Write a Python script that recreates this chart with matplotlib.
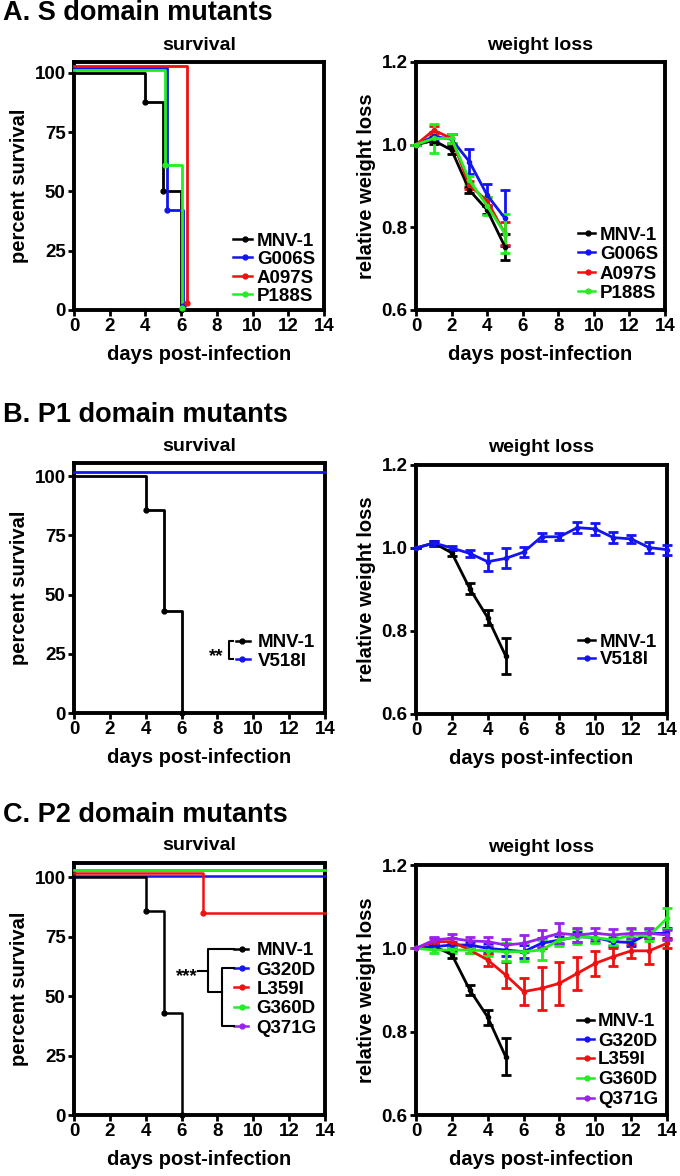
import matplotlib
matplotlib.use("Agg")
import matplotlib.pyplot as plt
import numpy as np

plt.rcParams['font.family'] = ['Liberation Sans', 'DejaVu Sans']
plt.rcParams['font.weight'] = 'bold'

# ---------------- data ----------------
COL = {'MNV-1': '#000000', 'G006S': '#1414f0', 'A097S': '#ee1111', 'P188S': '#22ee22',
       'V518I': '#1414f0', 'G320D': '#1414f0', 'L359I': '#ee1111', 'G360D': '#22ee22',
       'Q371G': '#9922ee'}

# Panel A survival (steps)
A_surv_labels = ['MNV-1', 'G006S', 'A097S', 'P188S']
A_surv_days = [[0, 4, 5, 6], [0, 5.2, 6.1], [0, 6.3], [0, 5.1, 6.05]]
A_surv_vals = [[100, 87.5, 50, 0], [102, 42, 1.5], [103, 3], [101, 61, 1]]

# Panel A weight loss
A_days = [0, 1, 2, 3, 4, 5]
A_w_labels = ['MNV-1', 'G006S', 'A097S', 'P188S']
A_w_mean = [[1.0, 1.010, 0.987, 0.890, 0.842, 0.753],
            [1.0, 1.020, 1.013, 0.959, 0.878, 0.822],
            [1.0, 1.035, 1.015, 0.902, 0.864, 0.785],
            [1.0, 1.015, 1.015, 0.914, 0.852, 0.785]]
A_w_err = [[0, 0.008, 0.010, 0.008, 0.010, 0.032],
           [0, 0.010, 0.012, 0.030, 0.027, 0.068],
           [0, 0.010, 0.010, 0.010, 0.010, 0.028],
           [0, 0.035, 0.010, 0.010, 0.022, 0.048]]

# Panel B survival
B_surv_labels = ['MNV-1', 'V518I']
B_surv_days = [[0, 4, 5, 6], [0, 14]]
B_surv_vals = [[100, 85.7, 42.9, 0], [102, 102]]

# Panel B weight loss
B_w_labels = ['MNV-1', 'V518I']
B_w_days = [[0, 1, 2, 3, 4, 5], list(range(15))]
B_w_mean = [[1.0, 1.012, 0.988, 0.902, 0.832, 0.740],
            [1.0, 1.012, 1.0, 0.987, 0.967, 0.975, 0.990, 1.027, 1.027, 1.049,
             1.046, 1.025, 1.022, 1.001, 0.996]]
B_w_err = [[0, 0.006, 0.008, 0.014, 0.018, 0.044],
           [0, 0.006, 0.006, 0.008, 0.022, 0.024, 0.012, 0.010, 0.008, 0.013,
            0.015, 0.013, 0.010, 0.014, 0.012]]

# Panel C survival
C_surv_labels = ['MNV-1', 'G320D', 'L359I', 'G360D', 'Q371G']
C_surv_days = [[0, 4, 5, 6], [0, 14], [0, 7.2, 14], [0, 14], [0, 14]]
C_surv_vals = [[100, 85.7, 42.9, 0], [100.6, 100.6], [101.8, 85, 85],
               [103, 103], [103, 103]]
C_draw_order = ['Q371G', 'G360D', 'G320D', 'MNV-1', 'L359I']

# Panel C weight loss
C_w_labels = ['MNV-1', 'G320D', 'L359I', 'G360D', 'Q371G']
C_w_days = [[0, 1, 2, 3, 4, 5]] + [list(range(15))] * 4
C_w_mean = [[1.0, 1.005, 0.985, 0.900, 0.835, 0.740],
            [1.0, 1.004, 1.008, 1.008, 1.000, 0.996, 0.992, 1.012, 1.020, 1.028,
             1.026, 1.016, 1.014, 1.036, 1.036],
            [1.0, 1.016, 1.016, 0.996, 0.972, 0.936, 0.896, 0.904, 0.916, 0.940,
             0.964, 0.980, 0.994, 0.994, 1.012],
            [1.0, 0.996, 0.996, 0.996, 0.994, 0.992, 0.992, 0.996, 1.020, 1.028,
             1.026, 1.020, 1.032, 1.030, 1.072],
            [1.0, 1.020, 1.024, 1.018, 1.016, 1.008, 1.012, 1.024, 1.036, 1.032,
             1.036, 1.032, 1.036, 1.036, 1.032]]
C_w_err = [[0, 0.006, 0.008, 0.012, 0.018, 0.044],
           [0, 0.006, 0.008, 0.008, 0.010, 0.014, 0.016, 0.012, 0.010, 0.012,
            0.010, 0.010, 0.008, 0.010, 0.012],
           [0, 0.008, 0.010, 0.008, 0.014, 0.032, 0.033, 0.052, 0.052, 0.040,
            0.030, 0.022, 0.016, 0.032, 0.010],
           [0, 0.008, 0.008, 0.008, 0.012, 0.022, 0.022, 0.024, 0.015, 0.018,
            0.012, 0.012, 0.014, 0.012, 0.026],
           [0, 0.008, 0.010, 0.010, 0.012, 0.015, 0.020, 0.020, 0.024, 0.016,
            0.014, 0.014, 0.012, 0.012, 0.012]]

# ---------------- figure ----------------
W, H = 680, 1176
fig = plt.figure(figsize=(W / 100, H / 100), dpi=100)


def px_axes(x0, y0, x1, y1):
    return fig.add_axes([x0 / W, 1 - y1 / H, (x1 - x0) / W, (y1 - y0) / H])


def style(ax, ylim, yticks, yfmt, ylabel, title):
    ax.set_xlim(0, 14)
    ax.set_ylim(*ylim)
    ax.set_xticks(range(0, 15, 2))
    ax.set_yticks(yticks)
    ax.set_yticklabels([yfmt(v) for v in yticks])
    for s in ax.spines.values():
        s.set_linewidth(2.8)
    ax.tick_params(direction='out', length=4, width=2, labelsize=13.5, pad=2)
    for lab in ax.get_xticklabels() + ax.get_yticklabels():
        lab.set_fontweight('bold')
    ax.set_xlabel('days post-infection', fontsize=14.5, fontweight='bold', labelpad=7)
    ax.set_ylabel(ylabel, fontsize=14.5, fontweight='bold', labelpad=4)
    ax.set_title(title, fontsize=14, fontweight='bold', pad=9)


def survival(ax, labels, days, vals, order=None, lw=2.0):
    items = list(zip(labels, days, vals))
    if order is not None:
        items = sorted(items, key=lambda t: order.index(t[0]))
    for lab, d, v in items:
        c = COL[lab]
        ax.plot(d, v, drawstyle='steps-post', color=c, lw=lw, clip_on=False, zorder=3)
        md = [x for i, x in enumerate(d) if i > 0 and x < 14]
        mv = [y for i, (x, y) in enumerate(zip(d, v)) if i > 0 and x < 14]
        ax.plot(md, mv, 'o', color=c, ms=3.5, clip_on=False, zorder=4)


def weight(ax, labels, days, means, errs):
    for lab, d, m, e in zip(labels, days, means, errs):
        c = COL[lab]
        ax.errorbar(d, m, yerr=e, color=c, lw=2.0, marker='o', ms=3, capsize=3.5,
                    capthick=2.0, elinewidth=2.0, clip_on=False, zorder=3)


def legend(ax, labels, ys, xh0, xh1, xdot, xt):
    for lab, y in zip(labels, ys):
        c = COL[lab]
        ax.plot([xh0, xh1], [y, y], color=c, lw=1.8, transform=ax.transAxes, clip_on=False)
        ax.plot([xdot], [y], 'o', color=c, ms=3.5, transform=ax.transAxes, clip_on=False)
        ax.text(xt, y, lab, transform=ax.transAxes, ha='left', va='center_baseline',
                fontsize=13.5, fontweight='bold')


pct = lambda v: '%d' % v
dec = lambda v: '%.1f' % v

# Panel A
axA1 = px_axes(74, 62, 324, 310)
survival(axA1, A_surv_labels, A_surv_days, A_surv_vals)
style(axA1, (0, 104.5), [0, 25, 50, 75, 100], pct, 'percent survival', 'survival')
legend(axA1, A_surv_labels, [0.286, 0.212, 0.137, 0.063], 0.636, 0.712, 0.685, 0.732)

axA2 = px_axes(416, 62, 665, 310)
weight(axA2, A_w_labels, [A_days] * 4, A_w_mean, A_w_err)
style(axA2, (0.6, 1.2), [0.6, 0.8, 1.0, 1.2], dec, 'relative weight loss', 'weight loss')
legend(axA2, A_w_labels, [0.31, 0.232, 0.153, 0.075], 0.65, 0.72, 0.69, 0.739)

# Panel B
axB1 = px_axes(74, 463, 325, 713)
survival(axB1, B_surv_labels, B_surv_days, B_surv_vals)
style(axB1, (0, 105.6), [0, 25, 50, 75, 100], pct, 'percent survival', 'survival')
legend(axB1, B_surv_labels, [0.289, 0.215], 0.645, 0.701, 0.67, 0.734)
tr = axB1.transAxes
axB1.plot([0.632, 0.619, 0.619, 0.632], [0.289, 0.289, 0.215, 0.215], color='k', lw=1.5,
          transform=tr, clip_on=False)
axB1.text(0.596, 0.206, '**', transform=tr, ha='right', va='baseline', fontsize=13.5,
          fontweight='bold')

axB2 = px_axes(416, 465, 667, 714)
weight(axB2, B_w_labels, B_w_days, B_w_mean, B_w_err)
style(axB2, (0.6, 1.2), [0.6, 0.8, 1.0, 1.2], dec, 'relative weight loss', 'weight loss')
legend(axB2, B_w_labels, [0.297, 0.225], 0.645, 0.715, 0.68, 0.733)

# Panel C
axC1 = px_axes(74, 863, 325, 1115)
survival(axC1, C_surv_labels, C_surv_days, C_surv_vals, order=C_draw_order, lw=1.8)
style(axC1, (0, 106), [0, 25, 50, 75, 100], pct, 'percent survival', 'survival')
rows = [0.659, 0.583, 0.507, 0.430, 0.353]
legend(axC1, C_surv_labels, rows, 0.636, 0.693, 0.668, 0.728)
tr = axC1.transAxes
axC1.plot([0.636, 0.534, 0.534, 0.588], [rows[0], rows[0], 0.489, 0.489], color='k',
          lw=1.5, transform=tr, clip_on=False)
axC1.plot([0.636, 0.588, 0.588, 0.636], [rows[1], rows[1], rows[4], rows[4]], color='k',
          lw=1.5, transform=tr, clip_on=False)
axC1.plot([0.494, 0.534], [0.573, 0.573], color='k', lw=1.5, transform=tr, clip_on=False)
axC1.text(0.494, 0.532, '***', transform=tr, ha='right', va='baseline', fontsize=13.5,
          fontweight='bold')

axC2 = px_axes(416, 865, 667, 1115)
weight(axC2, C_w_labels, C_w_days, C_w_mean, C_w_err)
style(axC2, (0.6, 1.2), [0.6, 0.8, 1.0, 1.2], dec, 'relative weight loss', 'weight loss')
legend(axC2, C_w_labels, [0.38, 0.304, 0.228, 0.148, 0.068], 0.64, 0.71, 0.68, 0.725)

# Panel titles
fig.text(3 / W, 1 - 13 / H, 'A. S domain mutants', fontsize=19.5, fontweight='bold',
         ha='left', va='center')
fig.text(3 / W, 1 - 415 / H, 'B. P1 domain mutants', fontsize=19.5, fontweight='bold',
         ha='left', va='center')
fig.text(3 / W, 1 - 815 / H, 'C. P2 domain mutants', fontsize=19.5, fontweight='bold',
         ha='left', va='center')

fig.savefig('out.png', dpi=100)
